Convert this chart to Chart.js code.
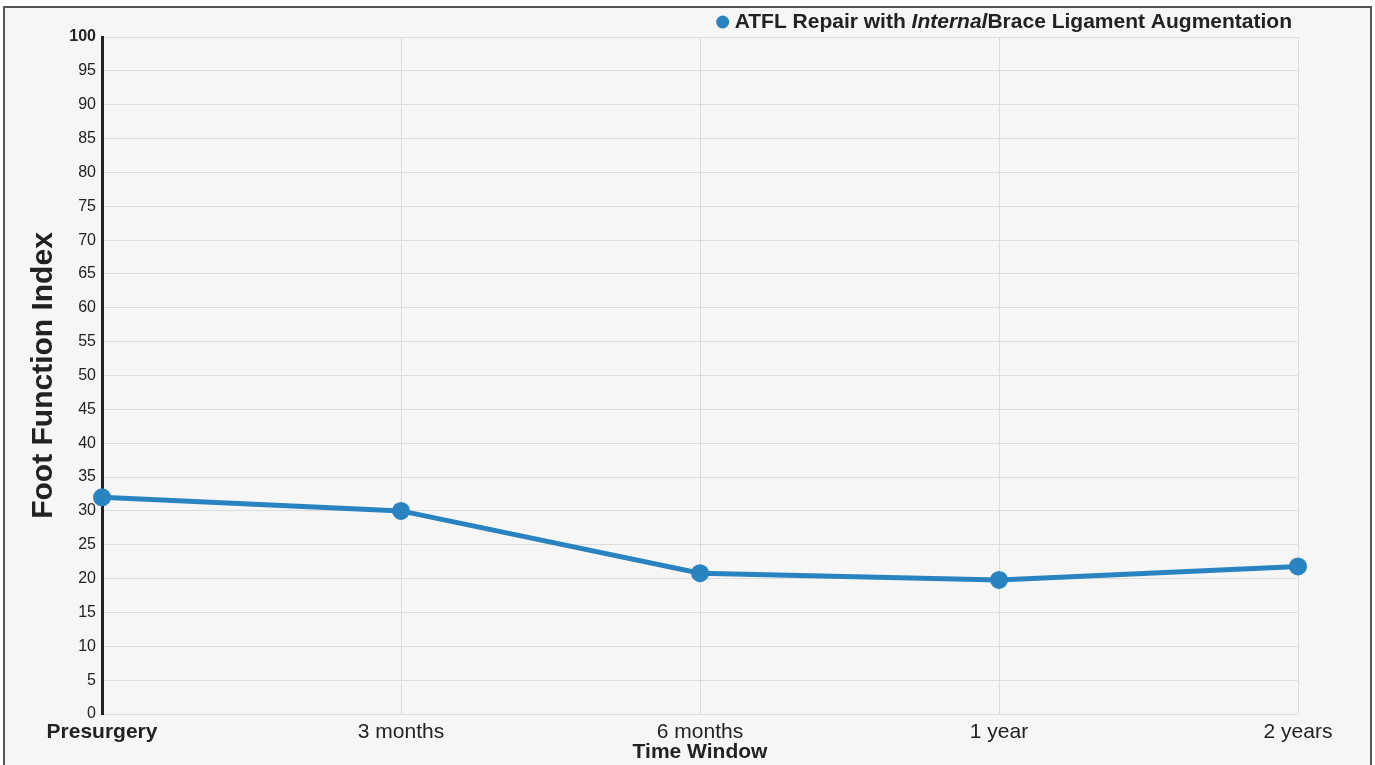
<!DOCTYPE html>
<html>
<head>
<meta charset="utf-8">
<script src="https://cdn.jsdelivr.net/npm/chart.js@4.4.1/dist/chart.umd.min.js"></script>
<style>
  html,body{margin:0;padding:0;background:#fff;}
  #wrap{position:relative;width:1375px;height:765px;}
</style>
</head>
<body>
<div id="wrap"><canvas id="c" width="1375" height="765"></canvas></div>
<script>
// ===== data =====
const LABELS = ['Presurgery','3 months','6 months','1 year','2 years'];
const FFI = [32.0, 30.0, 20.8, 19.8, 21.8];
const Y_TICKS = [0,5,10,15,20,25,30,35,40,45,50,55,60,65,70,75,80,85,90,95,100];
const SERIES = 'ATFL Repair with InternalBrace Ligament Augmentation';
const BLUE = '#2a83c1';
const FONT = "'Liberation Sans', Arial, sans-serif";

Chart.defaults.font.family = FONT;
Chart.defaults.color = '#222';

// frame + background box
const frame = {
  id:'frame',
  beforeDraw(ch){
    const g=ch.ctx;
    g.save();
    g.fillStyle='#f6f6f6';
    g.fillRect(4,7,1367,770);
    g.strokeStyle='#555'; g.lineWidth=2;
    g.strokeRect(4,7,1367,770);
    g.restore();
  }
};

// legend with the italic "Internal"
const legendPlug = {
  id:'legendPlug',
  afterDraw(ch){
    const g=ch.ctx; const y=22;
    const parts=[['ATFL Repair with ','bold'],['Internal','italic bold'],['Brace Ligament Augmentation','bold']];
    g.save();
    g.textBaseline='middle';
    let w=0;
    parts.forEach(p=>{g.font=p[1]+' 21px '+FONT; w+=g.measureText(p[0]).width;});
    let x=1292-w;
    g.fillStyle=BLUE;
    g.beginPath(); g.arc(x-12,y,6.5,0,Math.PI*2); g.fill();
    g.fillStyle='#222';
    parts.forEach(p=>{g.font=p[1]+' 21px '+FONT; g.fillText(p[0],x,y); x+=g.measureText(p[0]).width;});
    g.restore();
  }
};

new Chart(document.getElementById('c'),{
  type:'line',
  data:{labels:LABELS,datasets:[{label:SERIES,data:FFI,borderColor:BLUE,backgroundColor:BLUE,
    borderWidth:5,pointRadius:6.5,pointHoverRadius:7,tension:0}]},
  options:{
    responsive:false,animation:false,
    layout:{padding:{top:37,right:77,left:0,bottom:0}},
    plugins:{legend:{display:false},tooltip:{enabled:false}},
    scales:{
      x:{offset:false,
        grid:{color:'#dcdcdc',lineWidth:1,drawTicks:false},
        border:{display:false},
        ticks:{padding:6,font:c=>({size:21,weight:c.index===0?'bold':'normal'}),color:'#222',maxRotation:0},
        title:{display:true,text:'Time Window',font:{size:21,weight:'bold'},color:'#222',padding:{top:1,bottom:0}},
        afterFit:s=>{s.height=51;}
      },
      y:{min:0,max:100,
        afterBuildTicks:s=>{s.ticks=Y_TICKS.map(v=>({value:v}));},
        grid:{color:'#dcdcdc',lineWidth:1,drawTicks:false},
        border:{display:true,color:'#222',width:3},
        ticks:{padding:6,font:c=>({size:16,weight:c.tick&&c.tick.value===100?'bold':'normal'}),color:'#222'},
        title:{display:true,text:'Foot Function Index',font:{size:30,weight:'bold'},color:'#222',padding:{top:26,bottom:0}},
        afterFit:s=>{s.width=102;}
      }
    }
  },
  plugins:[frame,legendPlug]
});
</script>
</body>
</html>
